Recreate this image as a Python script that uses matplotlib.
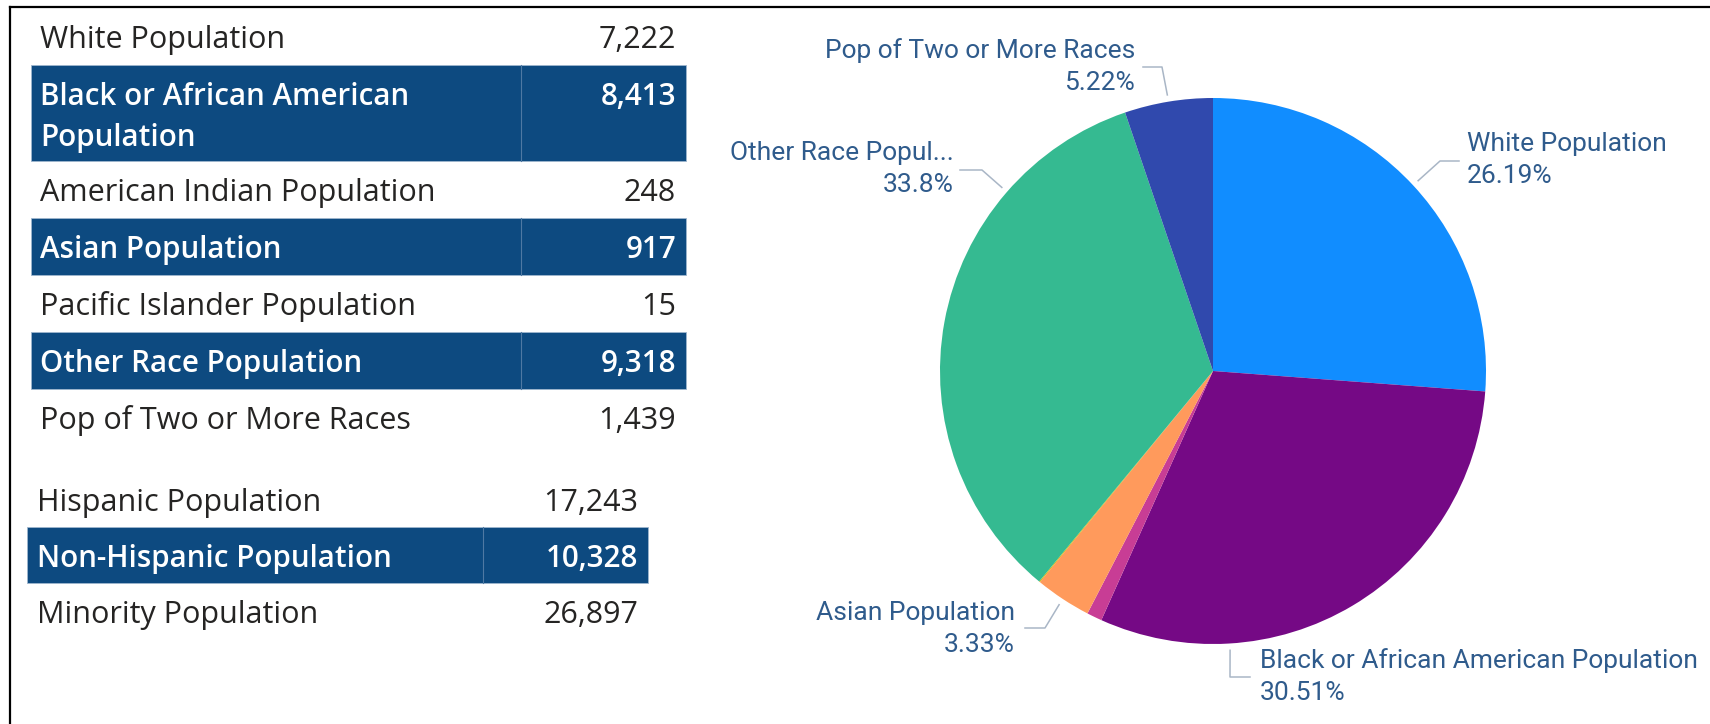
import numpy as np
import matplotlib.pyplot as plt
from matplotlib.patches import Rectangle

# ---- data ----
races = ['White Population', 'Black or African American Population',
         'American Indian Population', 'Asian Population',
         'Pacific Islander Population', 'Other Race Population',
         'Pop of Two or More Races']
race_counts = [7222, 8413, 248, 917, 15, 9318, 1439]
table_labels = ['White Population', 'Black or African American\nPopulation',
                'American Indian Population', 'Asian Population',
                'Pacific Islander Population', 'Other Race Population',
                'Pop of Two or More Races']
eth_labels = ['Hispanic Population', 'Non-Hispanic Population', 'Minority Population']
eth_counts = [17243, 10328, 26897]
slice_colors = ['#118DFF', '#750985', '#C83D95', '#FF9A5C', '#D9B300',
                '#35BA91', '#3049AD']
# which slices get a label on the pie, and the text shown
pie_names = {0: 'White Population', 1: 'Black or African American Population',
             3: 'Asian Population', 5: 'Other Race Popul...',
             6: 'Pop of Two or More Races'}

# ---- style ----
W, H = 1710, 724
NAVY = '#0D4A80'
TXT = '#252423'
LBL = '#2F5B8C'
LEAD = '#A9B6C6'
TFONT = ['Open Sans', 'DejaVu Sans']
PFONT = ['Roboto', 'DejaVu Sans']
TSIZE = 22
PSIZE = 19


def fmt_pct(p):
    s = f'{p:.2f}'.rstrip('0').rstrip('.')
    return s + '%'


def draw_table(ax, labels, counts, top, heights, x0, x1, xdiv, tx, vx):
    y = top
    for i, (lab, val) in enumerate(zip(labels, counts)):
        h = heights[i]
        dark = (i % 2 == 1)
        if dark:
            ax.add_patch(Rectangle((x0, y), x1 - x0, h, facecolor=NAVY,
                                   edgecolor='#9FB6CE', lw=0.6))
            ax.plot([xdiv, xdiv], [y, y + h], color='#4F79A3', lw=0.8)
        col = 'white' if dark else TXT
        wt = 'semibold' if dark else 'normal'
        fs = TSIZE - 0.7 if dark else TSIZE
        for j, line in enumerate(lab.split('\n')):
            ax.text(tx, y + 40 + 41 * j, line, fontsize=fs, color=col,
                    fontweight=wt, family=TFONT, va='baseline', ha='left')
        ax.text(vx, y + 40, f'{val:,}', fontsize=fs, color=col,
                fontweight=wt, family=TFONT, va='baseline', ha='right')
        y += h


def main():
    fig = plt.figure(figsize=(W / 100, H / 100), dpi=100)
    ax = fig.add_axes([0, 0, 1, 1])
    ax.set_xlim(0, W)
    ax.set_ylim(H, 0)
    ax.axis('off')

    # frame lines (top and left)
    ax.plot([10, W], [7, 7], color='black', lw=1.6)
    ax.plot([10, 10], [7, H], color='black', lw=1.6)

    # tables
    draw_table(ax, table_labels, race_counts, 8, [57, 96, 57, 57, 57, 57, 57],
               31, 686, 521, 40, 676)
    draw_table(ax, eth_labels, eth_counts, 471, [56, 56, 56],
               27, 648, 483, 37, 638)

    # pie
    cx, cy, R = 1213, 371, 273
    pax = fig.add_axes([(cx - R) / W, 1 - (cy + R) / H, 2 * R / W, 2 * R / H])
    wedges, _ = pax.pie(race_counts, colors=slice_colors, startangle=90,
                        counterclock=False, radius=1,
                        wedgeprops=dict(linewidth=0))
    pax.set_xlim(-1, 1)
    pax.set_ylim(-1, 1)
    pax.axis('off')

    total = sum(race_counts)
    # label layout: leader angle override, elbow, end, text x, name y, side
    layout = {
        0: (None, (1440, 161), (1459, 161), 1467, 143, 'left'),
        1: (-86.5, (1230, 677), (1250, 677), 1260, 660, 'left'),
        3: (None, (1045, 628), (1025, 628), 1015, 612, 'right'),
        5: (139.0, (982, 170), (960, 170), 954, 152, 'right'),
        6: (None, (1162, 67), (1143, 67), 1135, 50, 'right'),
    }
    for idx, name in pie_names.items():
        w = wedges[idx]
        ang, elbow, end, tx, ny, side = layout[idx]
        if ang is None:
            ang = (w.theta1 + w.theta2) / 2
        a = np.deg2rad(ang)
        sx = cx + R * 1.025 * np.cos(a)
        sy = cy - R * 1.025 * np.sin(a)
        ax.plot([sx, elbow[0], end[0]], [sy, elbow[1], end[1]],
                color=LEAD, lw=1.1)
        pct = fmt_pct(race_counts[idx] / total * 100)
        ax.text(tx, ny + 8, name, fontsize=PSIZE, color=LBL, family=PFONT,
                ha=side, va='baseline')
        ax.text(tx, ny + 40, pct, fontsize=PSIZE, color=LBL, family=PFONT,
                ha=side, va='baseline')

    fig.savefig('out.png', dpi=100, facecolor='white')


if __name__ == '__main__':
    main()
